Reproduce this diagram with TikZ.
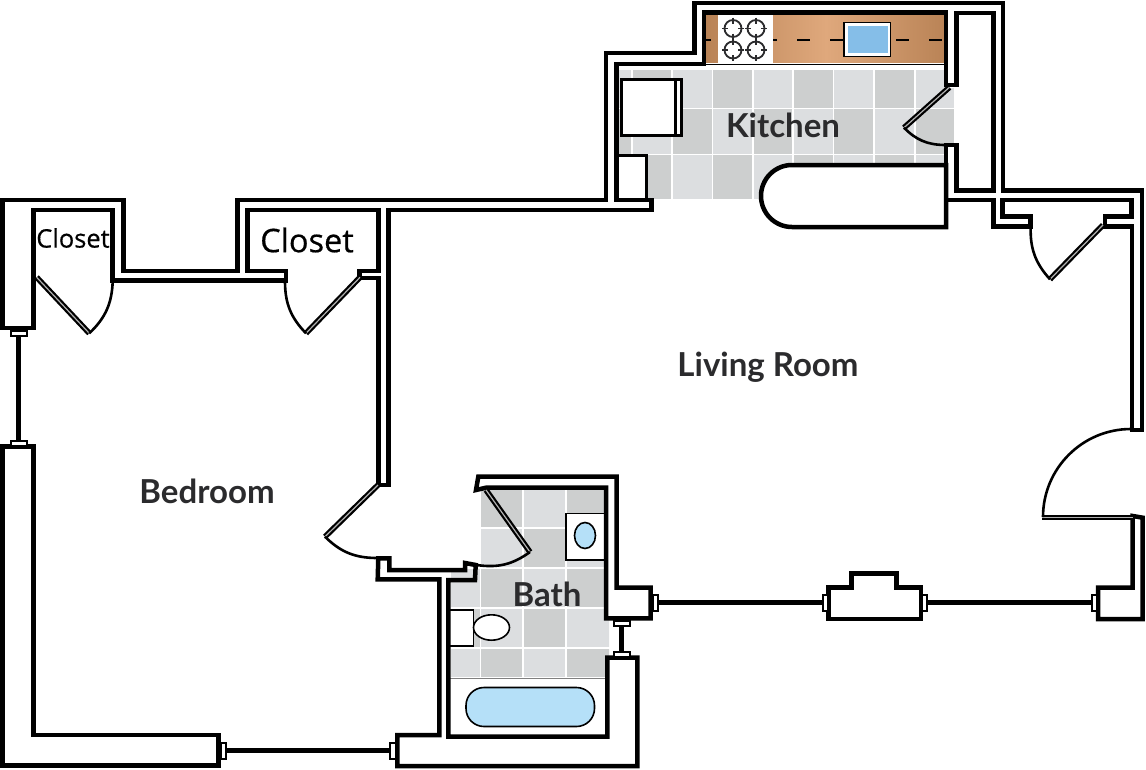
\documentclass[tikz,border=0pt]{standalone}
\usepackage{fontspec}
\usepackage{xcolor}
\setmainfont{Lato}
\newfontfamily\closetfont[FakeBold=0.5]{Open Sans}
\definecolor{tilelight}{HTML}{DCDEE0}
\definecolor{tiledark}{HTML}{CDCFCF}
\definecolor{woodedge}{HTML}{B98356}
\definecolor{woodmid}{HTML}{DFA87C}
\definecolor{sinkblue}{HTML}{85BEE8}
\definecolor{tubblue}{HTML}{B5E0F8}
\definecolor{labelgray}{HTML}{2B2B2D}
\tikzset{
	wall/.style={draw=black, line width=4.5pt, miter limit=10},
	glass/.style={draw=black, line width=5pt},
	stub/.style={draw=black, fill=white, line width=2pt},
	leaf/.style={draw=black, line width=2.2pt, double=gray!60, double distance=1.2pt},
	swing/.style={draw=black, line width=2.6pt},
	fixture/.style={draw=black, fill=white, line width=3pt},
	plumbing/.style={draw=black, fill=white, line width=1.6pt},
	burner/.style={draw=labelgray, line width=1.8pt},
	tile0/.style={fill=tilelight},
	tile1/.style={fill=tiledark},
	room/.style={text=labelgray, font=\bfseries\fontsize{33}{33}\selectfont}
}
\begin{document}
\begin{tikzpicture}[x=1pt, y=-1pt]
	\useasboundingbox (0,0) rectangle (1146,769);

	\begin{scope}
		\clip (618,70) -- (946,70) -- (946,88) -- (954,88) -- (954,145) -- (946,145) -- (946,199) -- (618,199) -- cycle;
		\foreach \xa/\xb [count=\i] in {618/631,632.5/671,672.5/711.5,713/752,753.5/792,793.5/832.5,834/873,874.5/914,915.5/955}
			\foreach \ya/\yb [count=\j] in {70/107.5,109/153.5,155/199} {
				\pgfmathtruncatemacro\k{mod(\i+\j,2)}
				\fill[tile\k] (\xa,\ya) rectangle (\xb,\yb);
			}
	\end{scope}
	\begin{scope}
		\clip (480,488) -- (606,488) -- (606,618) -- (609,618) -- (609,657) -- (606,657) -- (606,677) -- (451,677) -- (451,568) -- (480,568) -- cycle;
		\foreach \xa/\xb [count=\i] in {451/479.5,481/522,523.5/565,566.5/610}
			\foreach \ya/\yb [count=\j] in {488/527,528.5/567,568.5/607,608.5/647,648.5/677} {
				\pgfmathtruncatemacro\k{mod(\i+\j,2)}
				\fill[tile\k] (\xa,\ya) rectangle (\xb,\yb);
			}
	\end{scope}

	\shade[left color=woodedge, right color=woodmid, shading angle=90] (706,14) rectangle (826,62);
	\shade[left color=woodmid, right color=woodedge] (826,14) rectangle (946,62);
	\draw[black, line width=1.4pt, dash pattern=on 13pt off 20pt, dash phase=8pt] (706,40) -- (946,40);
	\draw[black, line width=1pt] (704,64) -- (946,64);
	\fill[white] (717.5,15) rectangle (772.5,63);
	\foreach \cx/\cy in {733/28.5,756/28.5,733/50,756/50} {
		\draw[burner] (\cx,\cy) circle (8.5);
		\draw[burner] (\cx-11,\cy) -- (\cx-5,\cy) (\cx+5,\cy) -- (\cx+11,\cy) (\cx,\cy-11) -- (\cx,\cy-5) (\cx,\cy+5) -- (\cx,\cy+11);
	}
	\draw[black, fill=white, line width=1.2pt] (844,22.5) rectangle (890.5,56.5);
	\fill[sinkblue] (847.5,26) rectangle (887.5,52.5);

	\draw[fixture] (621.5,79.5) rectangle (681,135.5);
	\draw[draw=black, line width=2.5pt] (675.5,79.5) -- (675.5,135.5);
	\draw[fixture] (616.5,155) rectangle (646.5,200);
	\draw[draw=black, fill=white, line width=4.5pt] (946,165) -- (792,165) arc (-90:-270:31) -- (946,227) -- cycle;

	\draw[plumbing] (566,513.5) rectangle (605,560);
	\draw[plumbing, fill=tubblue] (585,535.5) ellipse (10.5 and 13);
	\draw[plumbing] (449,610) rectangle (473.5,646);
	\draw[plumbing] (491.5,627.5) ellipse (18 and 12.7);
	\draw[draw=gray, line width=1pt] (449,678) -- (606,678);
	\draw[plumbing, fill=tubblue, rounded corners=18pt] (466,687.5) rectangle (594.5,726.5);

	\draw[wall] (2.7,328) -- (2.7,200) -- (123.3,200) -- (123.3,271) -- (237.3,271) -- (237.3,200) -- (606,200) -- (606,53) -- (694.5,53) -- (694.5,3) -- (1003,3) -- (1003,190.7) -- (1142,190.7) -- (1142,430) -- (1132,430) -- (1132,226.7) -- (1105,226.7) -- (1105,216.7) -- (1131.7,216.7) -- (1131.7,200) -- (1002.5,200) -- (1002.5,216.7) -- (1030.7,216.7) -- (1030.7,226.7) -- (993.6,226.7) -- (993.6,200) -- (946,200) -- (946,145) -- (956.4,145) -- (956.4,190.7) -- (993.6,190.7) -- (993.6,13) -- (956.4,13) -- (956.4,85) -- (946,85) -- (946,12.7) -- (704,12.7) -- (704,64) -- (616.5,64) -- (616.5,200) -- (651.7,200) -- (651.7,210) -- (388.3,210) -- (388.3,485) -- (378.3,485) -- (378.3,278) -- (359.3,278) -- (359.3,271) -- (378.3,271) -- (378.3,210) -- (247.3,210) -- (247.3,271) -- (286,271) -- (286,280.7) -- (112.7,280.7) -- (112.7,210) -- (33.3,210) -- (33.3,328) -- cycle;
	\draw[wall] (33.3,446.7) -- (2.7,446.7) -- (2.7,765.7) -- (218.3,765.7) -- (218.3,735) -- (33.3,735) -- cycle;
	\draw[wall] (378.3,558.3) -- (389.3,558.3) -- (389.3,570) -- (465,570) -- (465,563) -- (475.7,565) -- (475,580) -- (448.3,580) -- (448.3,736.7) -- (607.3,736.7) -- (607.3,657.7) -- (637.3,657.7) -- (637.3,766) -- (397.3,766) -- (397.3,735) -- (439.3,735) -- (439.3,579.3) -- (377.7,579.3) -- cycle;
	\draw[wall] (478.3,476.7) -- (616.7,476.7) -- (616.7,587.7) -- (650.7,587.7) -- (650.7,618.3) -- (606,618.3) -- (606,487.7) -- (486,487.7) -- (476,490) -- cycle;
	\draw[wall] (1132.7,516) -- (1132.7,587.7) -- (1098,587.7) -- (1098,619) -- (1142.7,619) -- (1142.7,517.7) -- cycle;
	\draw[wall] (828.3,619) -- (921,619) -- (921,587.7) -- (896.7,587.7) -- (896.7,573.3) -- (851.7,573.3) -- (851.7,587.7) -- (828.3,587.7) -- cycle;

	\draw[glass] (226,750.7) -- (390,750.7);
	\draw[stub] (220.5,743) rectangle (226,759);
	\draw[stub] (390,743) rectangle (395.5,759);
	\draw[glass] (18.3,335) -- (18.3,441);
	\draw[stub] (10.5,330.5) rectangle (26.5,335.5);
	\draw[stub] (10.5,441) rectangle (26.5,446);
	\draw[glass] (658,602.7) -- (823,602.7);
	\draw[glass] (926,602.7) -- (1092,602.7);
	\draw[stub] (653,595) rectangle (658,611);
	\draw[stub] (823,595) rectangle (828,611);
	\draw[stub] (921.5,595) rectangle (926.5,611);
	\draw[stub] (1092,595) rectangle (1097,611);
	\draw[glass] (621.7,625) -- (621.7,652);
	\draw[stub] (613.5,620.5) rectangle (629.5,625.5);
	\draw[stub] (613.5,651.5) rectangle (629.5,656.5);

	\draw[leaf] (36.7,277.3) -- (89.3,333.3);
	\draw[swing] (89.3,333.3) to[bend right=22] (112.7,281.7);
	\draw[leaf] (360,277.3) -- (306,333.3);
	\draw[swing] (306,333.3) to[bend left=22] (285,281.7);
	\draw[leaf] (1103,225) -- (1050,279.3);
	\draw[swing] (1050,279.3) to[bend left=22] (1030.7,226.7);
	\draw[leaf] (949.4,87.3) -- (904,127.7);
	\draw[swing] (904,127.7) to[bend right=22] (944,145);
	\draw[leaf] (378,485) -- (325,536.7);
	\draw[swing] (325,536.7) to[bend right=22] (376,558);
	\draw[leaf] (486,490) -- (530,552);
	\draw[swing] (530,552) to[bend left=22] (476.7,565);
	\draw[leaf] (1041.7,517.5) -- (1132.7,517.5);
	\draw[swing] (1043,517) arc (180:270:88);

	\node[room] (kitchen) at (783,125) {Kitchen};
	\node[room] (living) at (768,367) {Living Room};
	\node[room] (bedroom) at (207,491) {Bedroom};
	\node[room] (bath) at (547,594) {Bath};
	\node[text=black, font=\closetfont\fontsize{32.5}{32.5}\selectfont] (closetb) at (307,240) {Closet};
	\node[text=black, font=\closetfont\fontsize{25.5}{25.5}\selectfont] (closeta) at (73,238) {Closet};
\end{tikzpicture}
\end{document}
